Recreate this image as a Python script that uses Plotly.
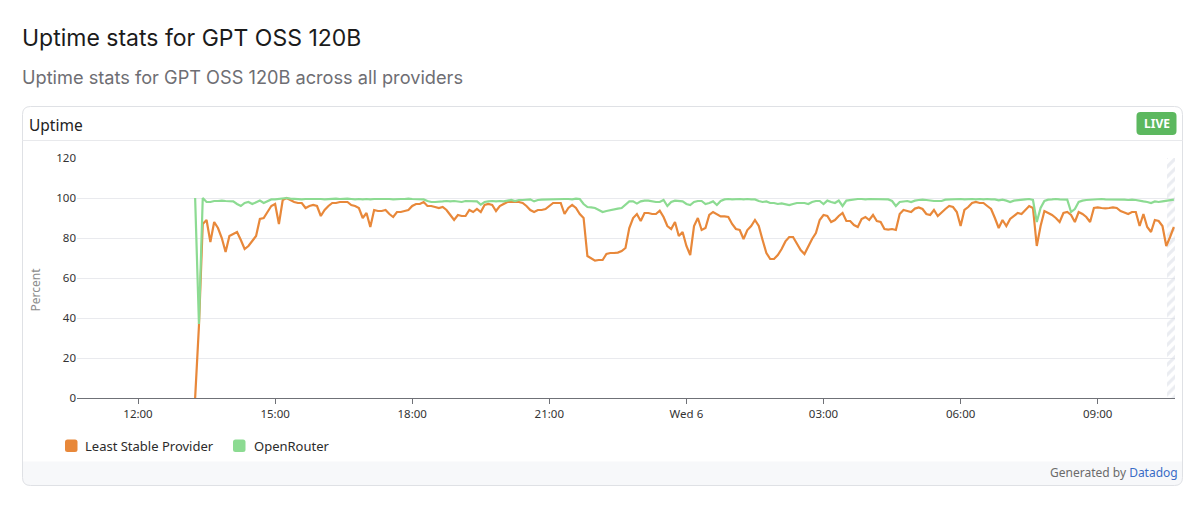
import plotly.graph_objects as go
import pandas as pd

# ---------------- data ----------------
START = "2025-08-05 13:15"
STEP = "5min"

least_stable = [
    0, 36, 87, 89, 78, 88, 85, 80, 73, 81,
    82, 83, 79, 74.5, 76, 78.5, 81, 89.5, 90, 93,
    96, 97, 87, 99, 100, 99, 98, 97.5, 97.5, 95,
    96, 96.5, 96, 91, 94, 96, 97.5, 97.5, 98, 98,
    98, 96.5, 96, 95, 90, 92.5, 85.5, 94, 93.5, 93.5,
    94, 92, 90.5, 93, 93, 93.5, 94, 96, 97, 97,
    98, 96, 96, 95.5, 95, 95.5, 94, 91.5, 89, 91.5,
    91, 91, 94, 93, 94.5, 93, 96.5, 97, 96.5, 93.5,
    96, 97, 98, 98, 98, 98, 97.5, 96, 94, 93,
    94, 94, 94.5, 96, 97.5, 97.5, 97.5, 92, 95, 96.5,
    95, 92, 90, 71, 70, 68.7, 69, 69, 72, 72.5,
    72.5, 72.7, 73.5, 75, 85, 90, 92, 88.5, 92.5, 92.5,
    92, 92, 93.7, 90.5, 86, 84.5, 88, 81, 83, 76,
    71.5, 86, 90, 84, 85, 91.5, 93, 92, 90.8, 90.8,
    90.5, 87, 84.5, 84, 79.5, 84, 86, 89, 86, 79,
    72.5, 69.5, 69.5, 71.5, 74.5, 78.3, 80.5, 80.5, 77.5, 74,
    72, 76, 79.5, 82.5, 89, 91.5, 91, 88, 89, 91,
    92.5, 88.5, 88.5, 86.5, 85.5, 89.5, 90.5, 89, 91.5, 88.5,
    88, 84.5, 84.2, 84.5, 84, 92, 94, 93.5, 93, 94.7,
    95.3, 94.5, 92, 91.5, 94, 91, 93, 94.5, 96, 95.5,
    93, 86, 94, 95.5, 97.5, 98, 97.5, 97.5, 96, 94.5,
    90, 85, 89, 86, 89.5, 91, 92.5, 92, 94.2, 96,
    95, 76, 86, 93.5, 92.5, 91.5, 90, 88, 92.5, 93,
    91.5, 88, 93, 92, 90.5, 88, 95, 95.3, 95, 94.8,
    95, 95.3, 95, 93.5, 92.8, 92, 93, 93, 86, 92,
    85.5, 83, 89, 88.5, 86, 76, 80.5, 85.5,
]

openrouter = [
    100, 37, 100, 98, 98, 98.5, 98.5, 98.7, 98.5, 98.5,
    98.3, 97, 96, 97.5, 98, 97, 98, 98.7, 97.5, 98.5,
    99.3, 99.3, 99.5, 99.7, 100, 99.7, 99.5, 99.5, 99.3, 99.5,
    99.5, 99.7, 99.5, 99.5, 99.3, 99.5, 99.5, 99.7, 99.5, 99.7,
    99.7, 99.5, 99.3, 99.5, 99.3, 99.5, 99.3, 99.5, 99.5, 99.7,
    99.5, 99.5, 99.3, 99.5, 99.5, 99.5, 99.7, 99.5, 99.5, 99.3,
    99.3, 98.5, 98, 98, 98.3, 98.3, 98.5, 98.3, 98.5, 98.3,
    98, 98.5, 98.5, 98.3, 98.3, 96.7, 98, 98.3, 98.5, 98.3,
    98.5, 98.3, 98.7, 99, 98.5, 99, 99, 99.3, 99.3, 98.3,
    99, 99.2, 99.3, 99.3, 99.5, 99.5, 99.5, 99.5, 99.5, 99.3,
    99.7, 99.5, 97, 95.5, 95.3, 95, 94, 93, 93.5, 94,
    94.2, 94.7, 95, 96.5, 98.3, 98.3, 97.2, 98.3, 98.7, 98.7,
    98.2, 98, 98, 99, 96, 98, 98.7, 98.5, 98.3, 97,
    96.5, 98, 98.5, 98.5, 97, 97.5, 98.3, 96.5, 98.5, 99.3,
    99.5, 99.3, 99.5, 99.5, 99.3, 99.5, 99.3, 99.3, 98.5, 98,
    98.3, 97.5, 97.5, 97, 97.3, 97, 96.5, 97, 97.5, 97.5,
    97.5, 97, 98, 98.5, 98.5, 97, 98.7, 98, 97.5, 98.7,
    96, 98.7, 99, 99.3, 99.5, 99.5, 99.3, 99.5, 99.5, 99.3,
    99.5, 99.5, 99.3, 98.5, 96, 98, 98.3, 98.5, 98, 98.7,
    99, 99.2, 99, 98.7, 98.5, 98.5, 98.5, 99.2, 99.3, 99.3,
    99.5, 99.5, 99.3, 99.5, 99.5, 99.3, 99.5, 99.3, 99.5, 99.3,
    99.3, 98.8, 99.2, 98.7, 98, 98.7, 99, 99.2, 99.3, 99.5,
    99, 88, 95, 98.5, 99.2, 99.3, 99.5, 99.3, 99.3, 99.2,
    93, 94.5, 98, 98.7, 99, 99.2, 99.3, 99.3, 99.5, 99.3,
    99.3, 99.5, 99.3, 99.3, 99.2, 99, 99.2, 99, 98.8, 98.3,
    98, 97.5, 98.3, 98, 98.3, 98.5, 98.7, 99.2,
]

series_names = ["Least Stable Provider", "OpenRouter"]
series_colors = ["#e8883a", "#8cdb92"]

x_tick_vals = ["2025-08-05 12:00", "2025-08-05 15:00", "2025-08-05 18:00",
               "2025-08-05 21:00", "2025-08-06 00:00", "2025-08-06 03:00",
               "2025-08-06 06:00", "2025-08-06 09:00"]
x_tick_labels = ["12:00", "15:00", "18:00", "21:00", "Wed 6", "03:00", "06:00", "09:00"]
y_tick_vals = [0, 20, 40, 60, 80, 100, 120]
x_range = ["2025-08-05 10:39:54", "2025-08-06 10:41:28"]
live_window = ["2025-08-06 10:31:00", "2025-08-06 10:41:28"]

times = pd.date_range(START, periods=len(least_stable), freq=STEP)

# ---------------- geometry helpers ----------------
OFF = 8                      # default body margin of the page
W, H = 1184, 489
L, R, T, B = 69, 17, 150, 99
PW, PH = W - L - R, H - T - B


def px(xp):
    return (xp - OFF - L) / PW


def py(yp):
    return (H - B - (yp - OFF)) / PH


def rrect_path(x0, y0, x1, y1, r, top=True, bottom=True):
    rt = r if top else 0
    rb = r if bottom else 0
    pts = []
    pts.append(f"M{px(x0 + rt)},{py(y0)}")
    pts.append(f"L{px(x1 - rt)},{py(y0)}")
    if rt:
        pts.append(f"Q{px(x1)},{py(y0)} {px(x1)},{py(y0 + rt)}")
    pts.append(f"L{px(x1)},{py(y1 - rb)}")
    if rb:
        pts.append(f"Q{px(x1)},{py(y1)} {px(x1 - rb)},{py(y1)}")
    pts.append(f"L{px(x0 + rb)},{py(y1)}")
    if rb:
        pts.append(f"Q{px(x0)},{py(y1)} {px(x0)},{py(y1 - rb)}")
    pts.append(f"L{px(x0)},{py(y0 + rt)}")
    if rt:
        pts.append(f"Q{px(x0)},{py(y0)} {px(x0 + rt)},{py(y0)}")
    pts.append("Z")
    return " ".join(pts)


NOTO = "Noto Sans, sans-serif"
INTER = "Inter, sans-serif"

fig = go.Figure()

# live (incomplete) window hatch
fig.add_trace(go.Scatter(
    x=[live_window[0], live_window[1], live_window[1], live_window[0], live_window[0]],
    y=[0, 0, 120, 120, 0],
    fill="toself", mode="lines", line=dict(width=0),
    fillcolor="rgba(0,0,0,0)",
    fillpattern=dict(shape="/", fgcolor="#d6dae4", bgcolor="rgba(255,255,255,0)",
                     size=7, solidity=0.45),
    hoverinfo="skip", showlegend=False,
))

for name, vals, col in zip(series_names, [least_stable, openrouter], series_colors):
    fig.add_trace(go.Scatter(
        x=times, y=vals, mode="lines", name=name,
        line=dict(color=col, width=2.2), showlegend=False,
    ))

shapes = []
# footer band
shapes.append(dict(type="path", xref="paper", yref="paper",
                   path=rrect_path(22.5, 461.5, 1182.5, 485.5, 8, top=False),
                   fillcolor="#f7f8fa", line=dict(width=0), layer="below"))
# card border
shapes.append(dict(type="path", xref="paper", yref="paper",
                   path=rrect_path(22.5, 106.5, 1182.5, 485.5, 8),
                   fillcolor="rgba(0,0,0,0)", line=dict(color="#dfe1e5", width=1),
                   layer="above"))
# header separator
shapes.append(dict(type="line", xref="paper", yref="paper",
                   x0=px(22.5), x1=px(1182.5), y0=py(140.5), y1=py(140.5),
                   line=dict(color="#e8e9ec", width=1)))
# LIVE badge
shapes.append(dict(type="path", xref="paper", yref="paper",
                   path=rrect_path(1136.5, 112, 1176.5, 135, 4),
                   fillcolor="#5cb85f", line=dict(width=0)))
# legend swatches
for i, (x0, col) in enumerate(zip([65, 233], series_colors)):
    shapes.append(dict(type="path", xref="paper", yref="paper",
                       path=rrect_path(x0, 439.5, x0 + 12.5, 452, 2.5),
                       fillcolor=col, line=dict(width=0)))

annotations = []


def add_text(text, x, y, size, color, family=NOTO, xanchor="left", weight=None, angle=0):
    f = dict(size=size, color=color, family=family)
    if weight:
        f["weight"] = weight
    annotations.append(dict(text=text, x=px(x), y=py(y), xref="paper", yref="paper",
                            xanchor=xanchor, yanchor="middle", showarrow=False,
                            font=f, textangle=angle, borderpad=0))


add_text("Uptime stats for GPT OSS 120B", 21, 38, 23, "#1b1b1b", family=INTER, weight=400)
add_text("Uptime stats for GPT OSS 120B across all providers", 21, 77, 18.2, "#6e6e73", family=INTER)
add_text("Uptime", 28, 125, 15.5, "#222222")
add_text("<b>LIVE</b>", 1156.5, 123.5, 12, "#ffffff", xanchor="center")
add_text("Percent", 34.5, 290, 12, "#8c8c8c", xanchor="center", angle=-90)
add_text(series_names[0], 84, 446, 13, "#2b2b2b")
add_text(series_names[1], 252.5, 446, 13, "#2b2b2b")
add_text("Generated by <span style='color:#3a6cc6'>Datadog</span>", 1178.5, 472, 12,
         "#6b6b6b", xanchor="right")

fig.update_layout(
    width=W, height=H, autosize=False,
    margin=dict(l=L, r=R, t=T, b=B, pad=0),
    paper_bgcolor="#ffffff", plot_bgcolor="#ffffff",
    shapes=shapes, annotations=annotations,
    showlegend=False,
    font=dict(family=NOTO, color="#333333"),
    xaxis=dict(
        type="date", range=x_range, tickvals=x_tick_vals, ticktext=x_tick_labels,
        showgrid=False, zeroline=False, showline=True, linecolor="#6f7177", linewidth=1,
        ticks="outside", ticklen=5, tickcolor="#6f7177", tickwidth=1,
        tickfont=dict(size=11.5, color="#333333", family=NOTO),
        fixedrange=True,
    ),
    yaxis=dict(
        range=[0, 120], tickvals=y_tick_vals, showgrid=True, gridcolor="#e9eaee",
        gridwidth=1, zeroline=False, showline=False, ticks="",
        tickfont=dict(size=11.5, color="#333333", family=NOTO),
        fixedrange=True,
    ),
)

fig.write_html("out.html")
